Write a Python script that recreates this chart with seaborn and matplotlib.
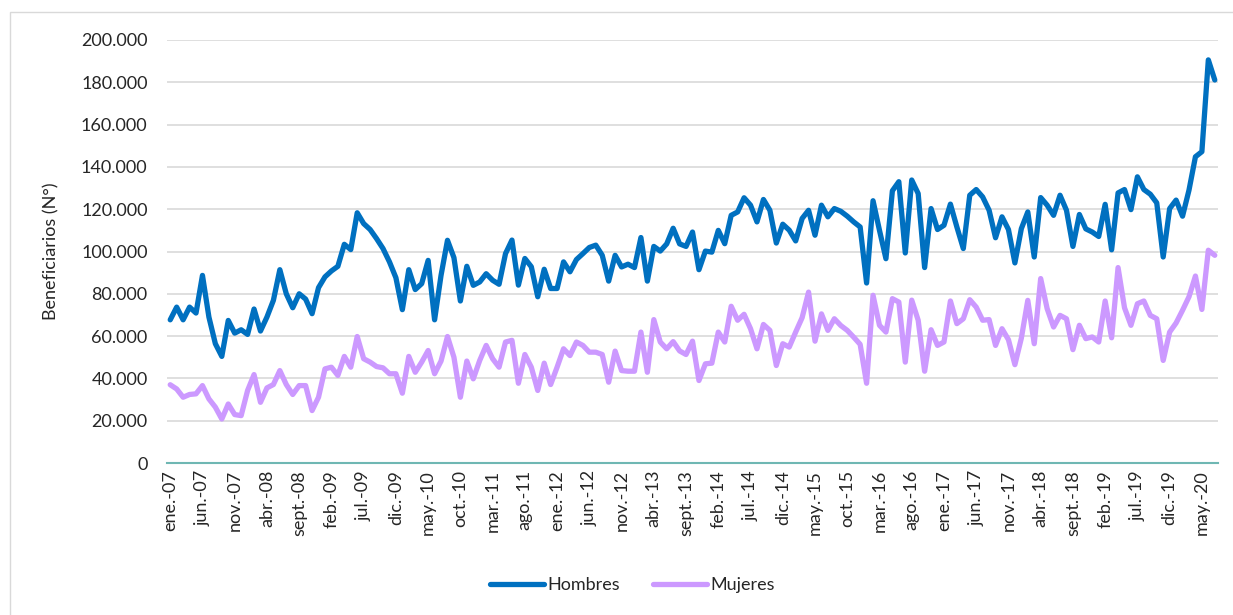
import numpy as np
import pandas as pd
import matplotlib
matplotlib.use("Agg")
import matplotlib.pyplot as plt
import matplotlib.ticker as mticker
from matplotlib.patches import Rectangle
import seaborn as sns

# Monthly beneficiaries (thousands), ene.-07 .. jul.-20
hombres = [
    67.7, 73.7, 67.7, 73.7, 70.9, 88.7, 69.0, 56.4, 50.4, 67.4,
    61.4, 63.0, 60.8, 72.8, 62.4, 69.0, 76.9, 91.4, 80.0, 73.4,
    80.0, 77.5, 70.6, 82.9, 88.0, 90.8, 93.0, 103.4, 100.9, 118.3,
    113.2, 110.4, 106.1, 101.4, 95.1, 87.6, 72.5, 91.4, 82.0, 84.8,
    95.8, 67.7, 88.7, 105.3, 97.1, 76.6, 93.0, 84.0, 85.6, 89.5,
    86.4, 84.5, 99.0, 105.4, 84.1, 96.7, 92.8, 78.6, 91.6, 82.5,
    82.5, 95.1, 90.4, 96.2, 99.0, 101.9, 103.0, 98.2, 86.0, 98.2,
    92.7, 94.0, 92.4, 106.6, 86.0, 102.4, 100.2, 103.6, 111.0, 103.6,
    102.4, 109.2, 91.4, 100.2, 99.7, 110.0, 103.7, 117.1, 118.7, 125.4,
    121.9, 114.0, 124.6, 119.5, 104.0, 112.9, 110.1, 105.0, 115.6, 119.5,
    107.7, 121.9, 116.4, 120.3, 119.0, 116.7, 114.0, 111.6, 85.1, 124.0,
    110.0, 96.6, 128.7, 133.0, 99.3, 133.8, 127.4, 92.4, 120.3, 110.4,
    112.4, 122.4, 111.6, 101.4, 126.6, 129.3, 125.8, 119.5, 106.5, 116.4,
    110.4, 94.6, 110.8, 118.7, 97.4, 125.5, 121.9, 117.1, 126.6, 119.5,
    102.4, 117.5, 110.7, 109.2, 107.1, 122.3, 100.8, 127.7, 129.3, 119.8,
    135.3, 129.3, 127.1, 123.0, 97.4, 120.3, 124.3, 116.7, 129.0, 144.8,
    147.2, 190.6, 181.1,
]
mujeres = [
    37.0, 35.0, 31.1, 32.4, 32.7, 36.6, 30.3, 26.4, 20.8, 27.9,
    22.9, 22.4, 34.3, 41.8, 28.7, 35.5, 37.1, 43.7, 37.1, 32.4,
    36.6, 36.6, 24.8, 31.1, 44.5, 45.3, 41.4, 50.4, 45.3, 59.8,
    49.3, 47.7, 45.6, 45.0, 42.2, 42.2, 33.0, 50.4, 42.9, 47.7,
    53.2, 42.2, 48.2, 59.8, 50.0, 31.1, 48.2, 39.8, 48.5, 55.6,
    49.3, 45.3, 57.2, 58.0, 37.7, 51.3, 45.3, 34.3, 47.2, 37.1,
    45.3, 54.0, 50.8, 57.2, 55.6, 52.4, 52.4, 51.3, 38.2, 52.9,
    43.7, 43.4, 43.4, 61.9, 42.9, 67.8, 57.2, 54.0, 57.4, 53.0,
    51.3, 57.6, 39.0, 46.9, 47.2, 61.9, 57.2, 74.1, 67.5, 70.3,
    63.5, 54.0, 65.5, 62.7, 46.1, 56.4, 54.8, 61.9, 68.7, 80.8,
    57.6, 70.5, 62.7, 68.2, 65.0, 62.7, 59.5, 56.1, 37.7, 79.3,
    65.1, 61.9, 77.7, 76.1, 47.7, 77.0, 67.5, 43.4, 63.0, 55.6,
    57.2, 76.6, 65.9, 68.2, 77.2, 73.7, 67.5, 67.8, 55.6, 63.5,
    58.3, 46.5, 59.0, 76.9, 56.4, 87.2, 73.0, 64.3, 69.8, 68.2,
    53.6, 65.1, 58.8, 59.6, 57.2, 76.6, 59.2, 92.4, 73.4, 65.1,
    75.3, 76.6, 69.8, 68.2, 48.5, 61.9, 66.2, 72.2, 78.6, 88.4,
    72.6, 100.6, 98.2,
]
meses = ["ene.", "feb.", "mar.", "abr.", "may.", "jun.",
         "jul.", "ago.", "sept.", "oct.", "nov.", "dic."]
anio_inicio = 2007

n = len(hombres)
etiquetas = [f"{meses[i % 12]}-{(anio_inicio + i // 12) % 100:02d}" for i in range(n)]

df = pd.DataFrame({
    "idx": list(range(n)) * 2,
    "valor": np.array(hombres + mujeres) * 1000,
    "serie": ["Hombres"] * n + ["Mujeres"] * n,
})

sns.set_style("white")
plt.rcParams["font.family"] = ["Lato", "DejaVu Sans"]

fig = plt.figure(figsize=(12.33, 6.15), dpi=100)
ax = fig.add_axes([167 / 1233, 1 - 463 / 615, (1218 - 167) / 1233, (463 - 40) / 615])

sns.lineplot(data=df, x="idx", y="valor", hue="serie", ax=ax,
             palette={"Hombres": "#0070C0", "Mujeres": "#CC99FF"},
             linewidth=3.8, legend=True)

ax.set_xlim(-0.5, n - 0.5)
ax.set_ylim(0, 200000)
ax.yaxis.set_major_locator(mticker.MultipleLocator(20000))
ax.yaxis.set_major_formatter(mticker.FuncFormatter(lambda v, p: f"{v:,.0f}".replace(",", ".")))
ax.grid(axis="y", color="#d9d9d9", linewidth=1.2)
ax.set_axisbelow(True)

ticks = list(range(0, n, 5))
ax.set_xticks(ticks)
ax.set_xticklabels([etiquetas[i] for i in ticks], rotation=90, fontsize=13)
ax.tick_params(axis="x", length=0, pad=5)
ax.tick_params(axis="y", length=0, pad=14, labelsize=13)

for s in ["left", "right", "top"]:
    ax.spines[s].set_visible(False)
ax.spines["bottom"].set_color("#6fb7b3")
ax.spines["bottom"].set_linewidth(1.5)

ax.set_xlabel("")
ax.set_ylabel("Beneficiarios (N°)", fontsize=13)
ax.yaxis.set_label_coords(-0.102, 0.5)

handles, labels = ax.get_legend_handles_labels()
ax.legend_.remove()
fig.legend(handles, labels, loc="center", bbox_to_anchor=(0.513, 0.049), ncol=2,
           frameon=False, fontsize=13, handlelength=3.0, columnspacing=1.8,
           handletextpad=0.2)

fig.patches.append(Rectangle((10 / 1233, -0.02), 1.05, 1 - 11.5 / 615 + 0.02,
                             transform=fig.transFigure, fill=False,
                             edgecolor="#d9d9d9", linewidth=1))

fig.savefig("out.png", dpi=100)
